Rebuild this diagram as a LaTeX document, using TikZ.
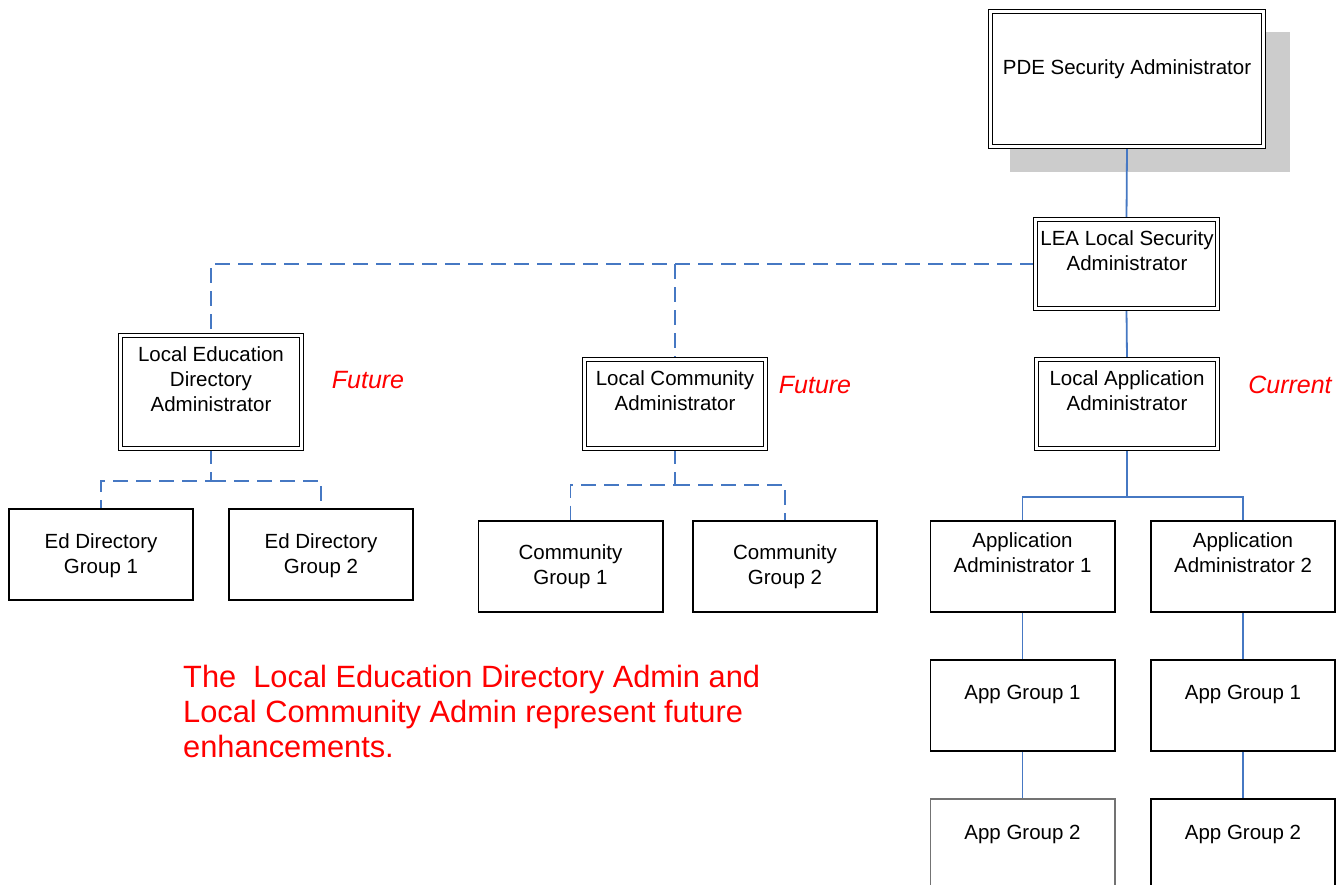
\documentclass[tikz,border=0pt]{standalone}
\usepackage{fontspec}
\setmainfont{Liberation Sans}
\usetikzlibrary{backgrounds}
\definecolor{conn}{RGB}{70,120,195}
\definecolor{shadowgray}{RGB}{204,204,204}
\begin{document}
\begin{tikzpicture}[x=1pt,y=-1pt,
  box/.style={draw=black, line width=1.6pt, fill=white, rectangle, inner sep=0pt,
              minimum width=184.4pt, minimum height=91.4pt},
  dbox/.style={draw=black, line width=1.4pt, double=white, double distance=2.4pt,
               fill=white, rectangle, inner sep=0pt},
  lbl/.style={font=\fontsize{20.5}{25}\selectfont, align=center, inner sep=0pt, anchor=north},
  tag/.style={font=\fontsize{25}{30}\selectfont\itshape, text=red, inner sep=0pt},
  solidc/.style={draw=conn, line width=1.8pt},
  dashc/.style={draw=conn, line width=1.8pt, dash pattern=on 15pt off 8pt},
]
\useasboundingbox (0,0) rectangle (1344,884);
\clip (0,0) rectangle (1344,884);

% double-bordered boxes
\node[dbox, minimum width=273pt, minimum height=135pt] (pde) at (1127,79) {};
\node[dbox, minimum width=182pt, minimum height=89pt] (lea) at (1126.5,264) {};
\node[dbox, minimum width=181pt, minimum height=113pt] (led) at (211,392) {};
\node[dbox, minimum width=181pt, minimum height=89pt] (lca) at (675,404) {};
\node[dbox, minimum width=181pt, minimum height=89pt] (laa) at (1127,404) {};

% plain boxes
\node[box] (eg1) at (101,554.5) {};
\node[box] (eg2) at (321,554.5) {};
\node[box] (cg1) at (570.5,566.5) {};
\node[box] (cg2) at (785,566.5) {};
\node[box] (aa1) at (1022.5,566.5) {};
\node[box] (aa2) at (1243,566.5) {};
\node[box] (ag1) at (1022.5,705.5) {};
\node[box] (ag1r) at (1243,705.5) {};
\node[box, draw=black!55] (ag2) at (1022.5,844.5) {};
\node[box] (ag2r) at (1243,844.5) {};

% box texts
\node[lbl] (pdet) at (1127,59.5) {PDE Security Administrator};
\node[lbl] (leat) at (1127,230.7) {LEA Local Security\\Administrator};
\node[lbl] (ledt) at (211,346.7) {Local Education\\Directory\\Administrator};
\node[lbl] (lcat) at (675,370.7) {Local Community\\Administrator};
\node[lbl] (laat) at (1127,370.7) {Local Application\\Administrator};
\node[lbl] (eg1t) at (101,533.7) {Ed Directory\\Group 1};
\node[lbl] (eg2t) at (321,533.7) {Ed Directory\\Group 2};
\node[lbl] (cg1t) at (570.5,544.7) {Community\\Group 1};
\node[lbl] (cg2t) at (785,544.7) {Community\\Group 2};
\node[lbl] (aa1t) at (1022.5,532.7) {Application\\Administrator 1};
\node[lbl] (aa2t) at (1243,532.7) {Application\\Administrator 2};
\node[lbl] (ag1t) at (1022.5,684.7) {App Group 1};
\node[lbl] (ag1rt) at (1243,684.7) {App Group 1};
\node[lbl] (ag2t) at (1022.5,824.7) {App Group 2};
\node[lbl] (ag2rt) at (1243,824.7) {App Group 2};

% status tags
\node[tag] (fut1) at (368,380) {Future};
\node[tag] (fut2) at (815,385) {Future};
\node[tag] (cur) at (1290,385) {Current};

% note
\node[font=\fontsize{30.8}{35}\selectfont, text=red, align=left, anchor=north west, inner sep=0pt]
  (note) at (183,665.2) {The \ Local Education Directory Admin and\\Local Community Admin represent future\\enhancements.};

% junction coordinates
\coordinate (jA) at (1127,497);
\coordinate (jB) at (211,481);
\coordinate (jC) at (675,485);

\begin{scope}[on background layer]
  \fill[white] (0,0) rectangle (1344,884);
  \fill[shadowgray] (1010,32) rectangle (1290,172);
  \draw[solidc] (pde.south) -- (lea.north);
  \draw[solidc] (lea.south) -- (laa.north);
  \draw[solidc] (laa.south) -- (jA) -| (aa1.north);
  \draw[solidc] (jA) -| (aa2.north);
  \draw[solidc] (aa1.south) -- (ag1.north);
  \draw[solidc] (ag1.south) -- (ag2.north);
  \draw[solidc] (aa2.south) -- (ag1r.north);
  \draw[solidc] (ag1r.south) -- (ag2r.north);
  \draw[dashc] (lea.west) -| (led.north);
  \draw[dashc] (lca.north |- lea.west) -- (lca.north);
  \draw[dashc] (led.south) -- (jB) -| (eg1.north);
  \draw[dashc] (jB) -| (eg2.north);
  \draw[dashc] (lca.south) -- (jC) -| (cg1.north);
  \draw[dashc] (jC) -| (cg2.north);
\end{scope}
\end{tikzpicture}
\end{document}
